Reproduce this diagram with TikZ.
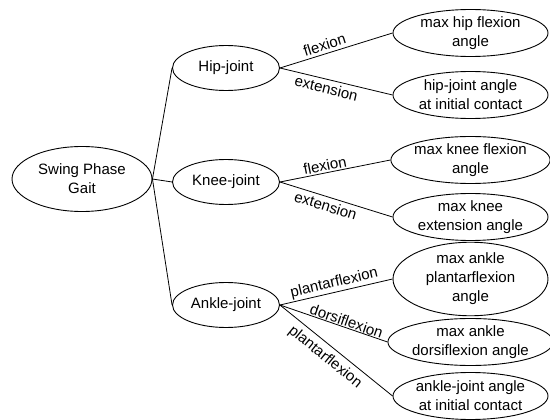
\documentclass[tikz,border=0pt]{standalone}
\usepackage{fontspec}
\setmainfont{Liberation Sans}
\usetikzlibrary{shapes.geometric}
\begin{document}
\begin{tikzpicture}[x=1pt,y=-1pt,
  ell/.style={draw=black,line width=0.9pt,ellipse,inner sep=0pt,align=center,
    font=\fontsize{15}{19}\selectfont},
  joint/.style={ell,minimum width=107pt,minimum height=45pt},
  leaf/.style={ell,minimum width=155pt,minimum height=47pt},
  conn/.style={draw=black,line width=0.8pt},
  lbl/.style={font=\fontsize{15}{17}\selectfont,sloped,inner sep=1.5pt}]
\useasboundingbox (0,0) rectangle (550,420);
\node[ell,minimum width=140pt,minimum height=65pt] (sw) at (82,179) {Swing Phase\\Gait};
\node[joint] (hip) at (226,68) {Hip-joint};
\node[joint] (knee) at (226,182) {Knee-joint};
\node[joint] (ankle) at (226,305) {Ankle-joint};
\node[leaf] (mhf) at (470.5,33) {max hip flexion\\angle};
\node[leaf] (hic) at (470.5,95) {hip-joint angle\\at initial contact};
\node[leaf] (mkf) at (470.5,160) {max knee flexion\\angle};
\node[leaf] (mke) at (470.5,217) {max knee\\extension angle};
\node[leaf,minimum height=58pt] (map) at (470.5,279) {max ankle\\plantarflexion\\angle};
\node[leaf] (mad) at (470.5,342) {max ankle\\dorsiflexion angle};
\node[leaf] (aic) at (470.5,396) {ankle-joint angle\\at initial contact};
\draw[conn] (sw.east) -- (hip.west);
\draw[conn] (sw.east) -- (knee.west);
\draw[conn] (sw.east) -- (ankle.west);
\draw[conn] (hip.east) -- node[lbl,pos=0.42,above,inner sep=3pt]{flexion} (mhf.west);
\draw[conn] (hip.east) -- node[lbl,pos=0.43,below,inner sep=3pt]{extension} (hic.west);
\draw[conn] (knee.east) -- node[lbl,pos=0.42,above]{flexion} (mkf.west);
\draw[conn] (knee.east) -- node[lbl,pos=0.43,below,inner sep=3pt]{extension} (mke.west);
\draw[conn] (ankle.east) -- node[lbl,pos=0.5,above]{plantarflexion} (map.west);
\draw[conn] (ankle.east) -- node[lbl,pos=0.6,above,inner sep=0.5pt]{dorsiflexion} (mad.west);
\draw[conn] (ankle.east) -- node[lbl,pos=0.47,below,inner sep=5pt]{plantarflexion} (aic.west);
\end{tikzpicture}
\end{document}
